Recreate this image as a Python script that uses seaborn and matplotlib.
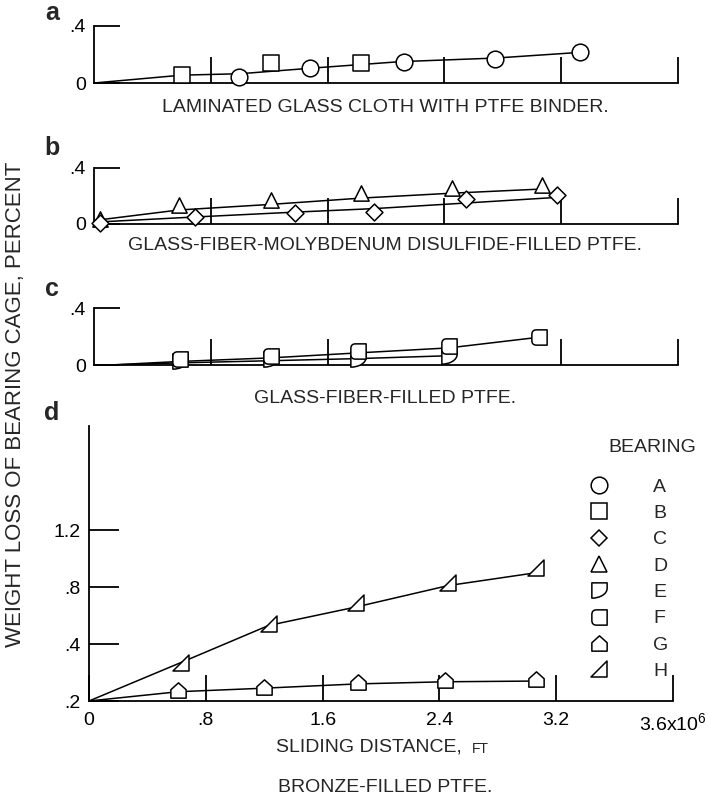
import numpy as np
import seaborn as sns
import matplotlib.pyplot as plt
from matplotlib.path import Path
from matplotlib.markers import MarkerStyle
from matplotlib.lines import Line2D

# sliding distance in 10^6 ft, weight loss in percent

# a - laminated glass cloth with PTFE binder
a_A_x = [0.99, 1.48, 2.12, 2.75, 3.33]
a_A_y = [0.042, 0.105, 0.15, 0.17, 0.22]
a_B_x = [0.60, 1.21, 1.83]
a_B_y = [0.056, 0.14, 0.14]
a_fit_x = [0.0, 0.6, 1.0, 1.5, 2.1, 2.75, 3.33]
a_fit_y = [0.0, 0.055, 0.065, 0.105, 0.15, 0.175, 0.215]

# b - glass-fiber-MoS2-filled PTFE
b_D_x = [0.04, 0.58, 1.21, 1.83, 2.45, 3.07]
b_D_y = [0.034, 0.136, 0.174, 0.219, 0.255, 0.28]
b_D_fit_y = [0.03, 0.10, 0.14, 0.185, 0.22, 0.25]
b_C_x = [0.04, 0.69, 1.38, 1.92, 2.55, 3.17]
b_C_y = [0.005, 0.05, 0.08, 0.088, 0.18, 0.21]
b_C_fit_y = [0.015, 0.05, 0.085, 0.11, 0.15, 0.19]

# c - glass-fiber-filled PTFE
c_E_x = [0.59, 1.21, 1.81, 2.43]
c_E_y = [0.03, 0.04, 0.04, 0.06]
c_E_fit_x = [0.11, 0.59, 1.21, 1.81, 2.43]
c_E_fit_y = [0.0, 0.015, 0.03, 0.045, 0.065]
c_F_x = [0.59, 1.21, 1.81, 2.43, 3.05]
c_F_y = [0.04, 0.06, 0.10, 0.135, 0.195]
c_F_fit_x = [0.11, 0.59, 1.21, 1.81, 2.43, 3.05]
c_F_fit_y = [0.0, 0.025, 0.05, 0.085, 0.12, 0.195]

# d - bronze-filled PTFE
d_G_x = [0.61, 1.20, 1.84, 2.44, 3.06]
d_G_y = [0.08, 0.10, 0.135, 0.147, 0.154]
d_G_fit_x = [0.0, 0.61, 1.20, 1.84, 2.44, 3.06]
d_G_fit_y = [0.0, 0.065, 0.09, 0.12, 0.135, 0.14]
d_H_x = [0.63, 1.23, 1.83, 2.46, 3.06]
d_H_y = [0.27, 0.54, 0.69, 0.83, 0.93]
d_H_fit_x = [0.0, 0.63, 1.23, 1.83, 2.46, 3.06]
d_H_fit_y = [0.0, 0.27, 0.53, 0.66, 0.81, 0.90]

bearings = ["A", "B", "C", "D", "E", "F", "G", "H"]
x_ticks = [0.0, 0.8, 1.6, 2.4, 3.2, 4.0]
x_ticklabels = ["0", ".8", "1.6", "2.4", "3.2", r"3.6x10$^{\mathregular{6}}$"]
d_y_ticks = [0.0, 0.4, 0.8, 1.2]
d_y_ticklabels = [".2", ".4", ".8", "1.2"]

subtitles = ["LAMINATED GLASS CLOTH WITH PTFE BINDER.",
             "GLASS-FIBER-MOLYBDENUM DISULFIDE-FILLED PTFE.",
             "GLASS-FIBER-FILLED PTFE.",
             "BRONZE-FILLED PTFE."]

# --- custom marker shapes ---
C4, C3, L, M, CL = Path.CURVE4, Path.CURVE3, Path.LINETO, Path.MOVETO, Path.CLOSEPOLY
E_path = Path([(-1, 1), (1, 1), (1, 0.3), (1, -0.5), (0, -1), (-1, -1), (-1, 1)],
              [M, L, L, C4, C4, C4, CL])
F_path = Path([(1, 1), (-0.4, 1), (-1, 1), (-1, 0.4), (-1, -0.4), (-1, -1), (-0.4, -1),
               (1, -1), (1, 1)],
              [M, L, C3, C3, L, C3, C3, L, CL])
G_path = Path([(-1, -1), (1, -1), (1, 0.1), (0, 1), (-1, 0.1), (-1, -1)],
              [M, L, L, L, L, CL])
H_path = Path([(-1, -1), (1, -1), (1, 1), (-1, -1)], [M, L, L, CL])

markers = {"A": ("o", 12), "B": ("s", 11), "C": ("D", 8.6), "D": ("^", 11),
           "E": (E_path, 11), "F": (F_path, 11), "G": (G_path, 11), "H": (H_path, 11)}

sns.set_style("ticks")
plt.rcParams["font.family"] = ["Liberation Sans", "DejaVu Sans"]
plt.rcParams["mathtext.fontset"] = "custom"
plt.rcParams["mathtext.rm"] = "Liberation Sans"

W, H = 708, 802
fig = plt.figure(figsize=(W / 100, H / 100), dpi=100)


def px(x, y):
    return x / W, 1 - y / H


def add_ax(left, top, right, bottom):
    ax = fig.add_axes([left / W, 1 - bottom / H, (right - left) / W, (bottom - top) / H])
    ax.set_facecolor("none")
    sns.despine(ax=ax)
    for s in ["left", "bottom"]:
        ax.spines[s].set_linewidth(1.3)
        ax.spines[s].set_color("black")
    ax.tick_params(direction="in", length=18.5, width=1.3, colors="black",
                   labelsize=14, pad=6, bottom=True, left=True)
    return ax


def pts(ax, x, y, key):
    m, ms = markers[key]
    sns.scatterplot(x=x, y=y, ax=ax, marker=MarkerStyle(m), s=ms ** 2,
                    color="black", facecolor="white", edgecolor="black",
                    linewidth=1.1, zorder=3, clip_on=False, legend=False)


def line(ax, x, y):
    sns.lineplot(x=x, y=y, ax=ax, color="black", lw=1.1, sort=False,
                 estimator=None, zorder=2)


def small_panel(ax):
    ax.set_xlim(0, 4.0)
    ax.set_ylim(0, 0.4)
    ax.set_xticks(x_ticks[1:])
    ax.set_xticklabels([])
    ax.set_yticks([0.0, 0.4])
    ax.set_yticklabels(["0", ".4"])


# a
ax_a = add_ax(94, 26, 678, 83)
line(ax_a, a_fit_x, a_fit_y)
pts(ax_a, a_B_x, a_B_y, "B")
pts(ax_a, a_A_x, a_A_y, "A")
small_panel(ax_a)

# b
ax_b = add_ax(94, 168, 678, 224)
line(ax_b, b_D_x, b_D_fit_y)
line(ax_b, b_C_x, b_C_fit_y)
pts(ax_b, b_D_x, b_D_y, "D")
pts(ax_b, b_C_x, b_C_y, "C")
small_panel(ax_b)

# c
ax_c = add_ax(94, 308, 678, 365)
line(ax_c, c_F_fit_x, c_F_fit_y)
line(ax_c, c_E_fit_x, c_E_fit_y)
pts(ax_c, c_E_x, c_E_y, "E")
pts(ax_c, c_F_x, c_F_y, "F")
small_panel(ax_c)

# d
ax_d = add_ax(89, 426, 673, 701)
line(ax_d, d_H_fit_x, d_H_fit_y)
line(ax_d, d_G_fit_x, d_G_fit_y)
pts(ax_d, d_H_x, d_H_y, "H")
pts(ax_d, d_G_x, d_G_y, "G")
ax_d.set_xlim(0, 4.0)
ax_d.set_ylim(0, 1.93)
ax_d.set_xticks(x_ticks)
ax_d.set_xticklabels(x_ticklabels)
ax_d.set_yticks(d_y_ticks)
ax_d.set_yticklabels(d_y_ticklabels)
ax_d.tick_params(axis="y", length=21.5)
ax_d.tick_params(axis="x", pad=8)

# legend
handles = []
for b in bearings:
    m, ms = markers[b]
    handles.append(Line2D([], [], ls="none", marker=MarkerStyle(m), markersize=ms,
                          mfc="white", mec="black", mew=1.1))
ax_d.legend(handles, bearings, loc="upper left", bbox_to_anchor=px(589, 478),
            bbox_transform=fig.transFigure, frameon=False, fontsize=14,
            handlelength=1.0, handletextpad=2.3, labelspacing=0.45, borderpad=0,
            borderaxespad=0)
fig.text(*px(652, 447), "BEARING", fontsize=14, ha="center", va="center")

# panel letters
for letter, (lx, ly) in zip("abcd", [(52, 13), (52, 148), (52, 289), (52, 413)]):
    fig.text(*px(lx, ly), letter, fontsize=18, fontweight="bold", ha="center", va="center")

# subtitles
for text, ty in zip(subtitles, [107, 245, 398, 788]):
    fig.text(*px(385, ty), text, fontsize=14, ha="center", va="center")

fig.text(*px(462, 747), "SLIDING DISTANCE,", fontsize=14, ha="right", va="center")
fig.text(*px(472, 749), "FT", fontsize=10, ha="left", va="center")
fig.text(*px(16, 404), "WEIGHT LOSS OF BEARING CAGE, PERCENT", fontsize=16,
         rotation=90, ha="center", va="center")

fig.savefig("out.png", dpi=100)
